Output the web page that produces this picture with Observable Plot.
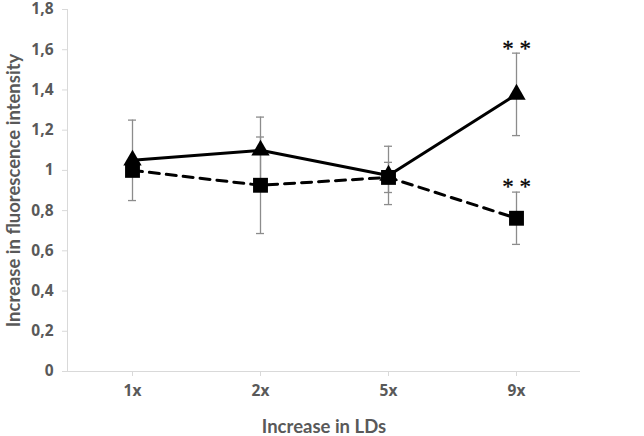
<!DOCTYPE html>
<html>
<head>
<meta charset="utf-8">
<script src="https://cdn.jsdelivr.net/npm/d3@7"></script>
<script src="https://cdn.jsdelivr.net/npm/@observablehq/plot@0.6"></script>
<style>
  html, body { margin: 0; padding: 0; background: #fff; }
  svg g[aria-label$="tick label"], svg g[aria-label$="tick label"] text {
    font-size: 15.5px !important; font-weight: 700 !important; font-family: "Open Sans" !important;
  }
</style>
</head>
<body>
<div id="chart"></div>
<script>
const categories = ["1x", "2x", "5x", "9x"];
const triangleValues = [1.05, 1.10, 0.975, 1.378];
const triangleErrors = [0.20, 0.165, 0.145, 0.205];
const squareValues = [1.0, 0.926, 0.965, 0.762];
const squareErrors = [0.03, 0.24, 0.075, 0.13];
const yTicks = [0, 0.2, 0.4, 0.6, 0.8, 1, 1.2, 1.4, 1.6, 1.8];
const significant = [
  {cat: "9x", series: "triangle"},
  {cat: "9x", series: "square"}
];

const tri = categories.map((c, i) => ({cat: c, v: triangleValues[i], e: triangleErrors[i]}));
const sq = categories.map((c, i) => ({cat: c, v: squareValues[i], e: squareErrors[i]}));
const all = [...tri, ...sq];
const sig = significant.map(s => {
  const arr = s.series === "triangle" ? tri : sq;
  const d = arr.find(d => d.cat === s.cat);
  return {cat: s.cat, top: d.v + d.e};
});

const errColor = "#8c8c8c";
const axisColor = "#d9d9d9";
const textColor = "#595959";

const chart = Plot.plot({
  width: 644,
  height: 436,
  marginLeft: 67,
  marginRight: 64,
  marginTop: 9,
  marginBottom: 65,
  style: {fontFamily: "Lato", fontSize: "14px", color: textColor, background: "#fff"},
  x: {type: "band", domain: categories, padding: 0},
  y: {domain: [0, 1.8]},
  marks: [
    Plot.frame({anchor: "left", stroke: axisColor}),
    Plot.ruleY([0], {stroke: axisColor}),
    Plot.axisY({ticks: yTicks, tickSize: 5, tickPadding: 9, stroke: axisColor, fill: textColor,
      fontFamily: "Open Sans", fontSize: 15.5, fontWeight: "bold",
      tickFormat: d => String(d).replace(".", ","), label: null}),
    Plot.axisX({tickSize: 5, tickPadding: 8, stroke: axisColor, fill: textColor,
      fontFamily: "Open Sans", fontSize: 15.5, fontWeight: "bold", label: null}),
    Plot.text(["Increase in fluorescence intensity"], {frameAnchor: "left", dx: -53, rotate: -90,
      textAnchor: "middle", lineAnchor: "middle", fontSize: 18.5, fontWeight: "bold", fill: textColor}),
    Plot.text(["Increase in LDs"], {frameAnchor: "bottom", dy: 56, textAnchor: "middle", lineAnchor: "middle",
      fontSize: 18.5, fontWeight: "bold", fill: textColor}),
    Plot.ruleX(all, {x: "cat", y1: d => d.v - d.e, y2: d => d.v + d.e, stroke: errColor, strokeWidth: 1.3}),
    Plot.tickY(all, {x: "cat", y: d => d.v + d.e, stroke: errColor, strokeWidth: 1.3, insetLeft: 60, insetRight: 60}),
    Plot.tickY(all, {x: "cat", y: d => d.v - d.e, stroke: errColor, strokeWidth: 1.3, insetLeft: 60, insetRight: 60}),
    Plot.line(sq, {x: "cat", y: "v", stroke: "black", strokeWidth: 3, strokeDasharray: "10,7"}),
    Plot.line(tri, {x: "cat", y: "v", stroke: "black", strokeWidth: 3}),
    Plot.dot(sq, {x: "cat", y: "v", symbol: "square", r: 8.4, fill: "black", stroke: "none"}),
    Plot.dot(tri, {x: "cat", y: "v", symbol: "triangle", r: 6.8, fill: "black", stroke: "none"}),
    Plot.text(sig, {x: "cat", y: "top", text: () => "* *", dy: -5, fontFamily: "Liberation Serif",
      fontSize: 23, fontWeight: "normal", fill: "#000", stroke: "#000", strokeWidth: 0.3})
  ]
});
document.getElementById("chart").appendChild(chart);
</script>
</body>
</html>
